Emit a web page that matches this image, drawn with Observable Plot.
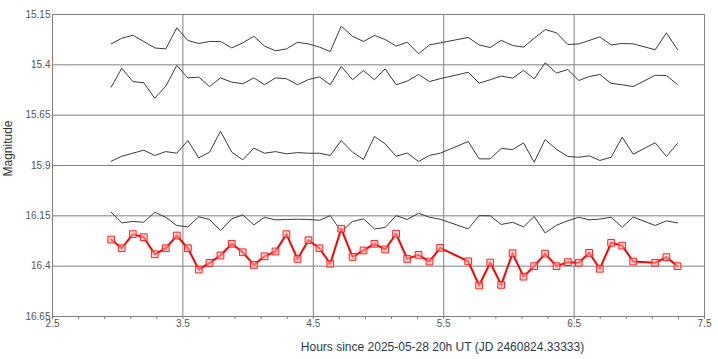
<!DOCTYPE html>
<html>
<head>
<meta charset="utf-8">
<script src="https://cdn.jsdelivr.net/npm/d3@7"></script>
<script src="https://cdn.jsdelivr.net/npm/@observablehq/plot@0.6"></script>
<style>
  html, body { margin: 0; padding: 0; background: #fff; }
  #chart { width: 718px; height: 359px; }
</style>
</head>
<body>
<div id="chart"></div>
<script>
// Time of each observation (hours since 2025-05-28 20h UT)
const hours = [2.950,3.031,3.116,3.200,3.284,3.369,3.453,3.538,3.622,3.704,
  3.788,3.875,3.959,4.044,4.126,4.210,4.294,4.379,4.463,4.547,
  4.630,4.714,4.801,4.885,4.969,5.051,5.135,5.220,5.307,5.391,
  5.473,5.688,5.772,5.857,5.941,6.028,6.112,6.194,6.278,6.365,
  6.452,6.536,6.616,6.697,6.784,6.869,6.953,7.122,7.208,7.293];

// Target star (red)
const magTarget = [16.268,16.311,16.241,16.256,16.341,16.311,16.248,16.311,16.417,16.384,
  16.347,16.289,16.331,16.394,16.351,16.327,16.241,16.364,16.271,16.311,
  16.388,16.214,16.354,16.322,16.289,16.317,16.239,16.364,16.344,16.377,
  16.309,16.376,16.496,16.382,16.493,16.336,16.452,16.400,16.338,16.400,
  16.380,16.383,16.334,16.413,16.284,16.298,16.377,16.383,16.355,16.400];

// Comparison stars (grey)
const magA = [15.296,15.268,15.253,15.284,15.316,15.321,15.216,15.279,15.294,15.284,
  15.284,15.316,15.291,15.258,15.307,15.330,15.321,15.288,15.296,15.312,
  15.334,15.208,15.258,15.284,15.254,15.274,15.307,15.288,15.345,15.301,
  15.291,15.264,15.301,15.314,15.278,15.304,15.312,15.268,15.225,15.241,
  15.299,15.296,15.279,15.261,15.301,15.294,15.296,15.325,15.241,15.324];
const magB = [15.511,15.417,15.483,15.489,15.566,15.506,15.403,15.465,15.461,15.508,
  15.465,15.486,15.494,15.465,15.499,15.465,15.469,15.499,15.473,15.460,
  15.499,15.408,15.474,15.428,15.474,15.420,15.499,15.481,15.448,15.483,
  15.469,15.437,15.491,15.474,15.456,15.466,15.428,15.469,15.390,15.441,
  15.423,15.478,15.458,15.448,15.492,15.499,15.508,15.452,15.453,15.498];
const magC = [15.879,15.854,15.839,15.824,15.850,15.831,15.839,15.776,15.862,15.834,
  15.730,15.834,15.872,15.814,15.839,15.831,15.842,15.836,15.839,15.839,
  15.850,15.776,15.834,15.870,15.756,15.792,15.854,15.838,15.880,15.850,
  15.839,15.781,15.867,15.867,15.815,15.821,15.788,15.884,15.771,15.820,
  15.855,15.859,15.852,15.875,15.859,15.759,15.844,15.787,15.855,15.790];
const magD = [16.132,16.185,16.178,16.182,16.132,16.157,16.198,16.205,16.155,16.168,
  16.223,16.165,16.145,16.195,16.157,16.170,16.168,16.167,16.168,16.172,
  16.149,16.228,16.178,16.165,16.215,16.208,16.149,16.168,16.137,16.157,
  16.167,16.215,16.149,16.150,16.193,16.182,16.205,16.153,16.235,16.197,
  16.174,16.157,16.170,16.166,16.157,16.207,16.156,16.198,16.175,16.185];

const xTicks = [2.5, 3.5, 4.5, 5.5, 6.5, 7.5];
const xTickLabels = ["2.5", "3.5", "4.5", "5.5", "6.5", "7.5"];
const yTicks = [15.15, 15.4, 15.65, 15.9, 16.15, 16.4, 16.65];
const yTickLabels = ["15.15", "15.4", "15.65", "15.9", "16.15", "16.4", "16.65"];
const xTitle = "Hours since 2025-05-28 20h UT (JD 2460824.33333)";
const yTitle = "Magnitude";

const compSeries = [magA, magB, magC, magD];
const compRows = compSeries.flatMap((arr, s) => arr.map((m, i) => ({series: "c" + s, h: hours[i], m})));
const targetRows = magTarget.map((m, i) => ({h: hours[i], m}));
const minorTicks = d3.range(0, 26).map(k => 2.5 + k * 0.2);

const chart = Plot.plot({
  width: 718,
  height: 359,
  marginLeft: 52,
  marginRight: 14,
  marginTop: 14,
  marginBottom: 43,
  style: {fontFamily: "'Liberation Sans', Arial, sans-serif", fontSize: "10px", background: "#fff"},
  x: {domain: [2.5, 7.5]},
  y: {domain: [15.15, 16.65], reverse: true},
  marks: [
    Plot.gridY(yTicks, {stroke: "#808080", strokeOpacity: 1}),
    Plot.gridX(xTicks, {stroke: "#808080", strokeOpacity: 1}),
    Plot.frame({stroke: "#808080"}),
    Plot.axisY({ticks: yTicks, tickSize: 0, tickPadding: 2, label: null, fill: "#555",
      tickFormat: d => yTickLabels[yTicks.indexOf(d)]}),
    Plot.axisX({ticks: minorTicks, tickSize: 3, label: null, stroke: "#808080", tickFormat: () => ""}),
    Plot.axisX({ticks: xTicks, tickSize: 0, tickPadding: 3, label: null, fill: "#555",
      tickFormat: d => xTickLabels[xTicks.indexOf(d)]}),
    Plot.line(compRows, {x: "h", y: "m", z: "series", stroke: "#3a3a3a", strokeWidth: 1}),
    Plot.line(targetRows, {x: "h", y: "m", stroke: "#ff0000", strokeWidth: 2}),
    Plot.dot(targetRows, {x: "h", y: "m", symbol: "square", r: 3.8, stroke: "#ff2020", strokeWidth: 1,
      fill: "#ffb0b0", fillOpacity: 0.55}),
    Plot.text([yTitle], {frameAnchor: "left", rotate: -90, dx: -44, dy: 11, fontSize: 12, fill: "#333"}),
    Plot.text([xTitle], {frameAnchor: "bottom", dx: 64, dy: 34, fontSize: 12, fill: "#2e3a48"})
  ]
});
document.getElementById("chart").appendChild(chart);
</script>
</body>
</html>
